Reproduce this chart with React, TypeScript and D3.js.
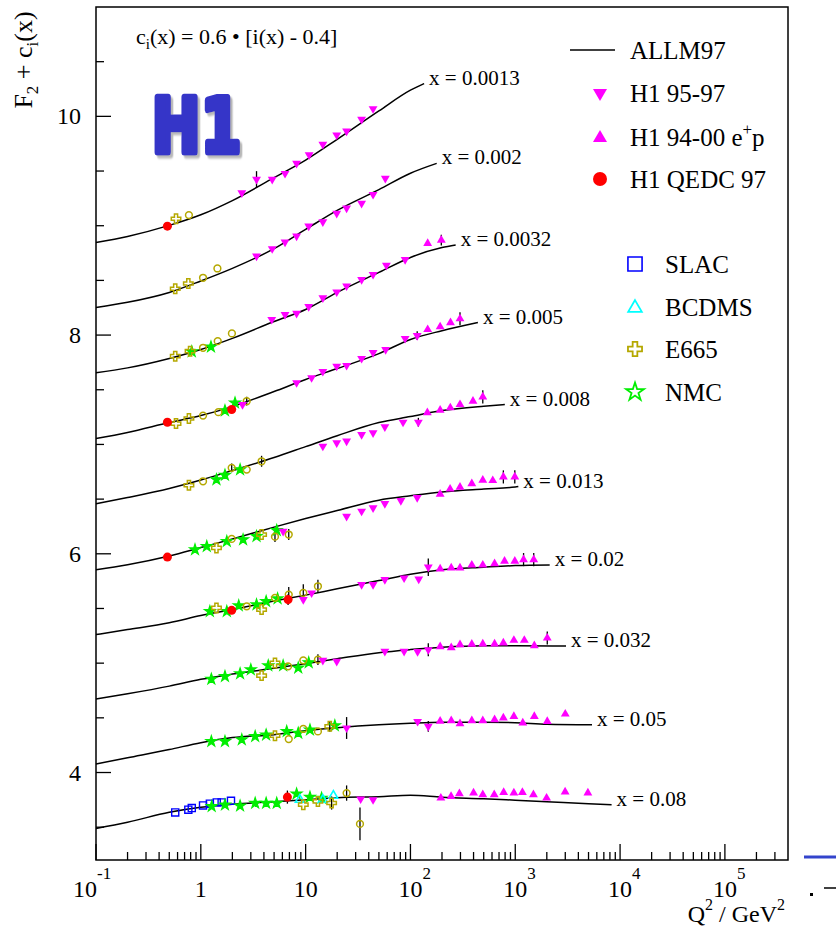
import React from 'react';
import * as d3 from 'd3';

// ---------- DATA ----------
const xBinLabels = ['0.0013', '0.002', '0.0032', '0.005', '0.008', '0.013', '0.02', '0.032', '0.05', '0.08'];

// ALLM97 curves: [Q2, F2 + c_i(x)]
const allm0013: [number, number][] = [[0.1, 8.847], [0.2, 8.902], [0.5, 9.003], [1, 9.10], [2, 9.23], [5, 9.44], [10, 9.60], [20, 9.79], [50, 10.05], [100, 10.24], [135, 10.30]];
const allm002: [number, number][] = [[0.1, 8.252], [0.2, 8.30], [0.5, 8.39], [1, 8.495], [2, 8.61], [5, 8.79], [10, 8.966], [20, 9.14], [50, 9.33], [100, 9.48], [178, 9.57]];
const allm0032: [number, number][] = [[0.1, 7.655], [0.2, 7.70], [0.5, 7.786], [1, 7.868], [2, 7.97], [5, 8.124], [10, 8.234], [20, 8.39], [50, 8.573], [100, 8.71], [200, 8.80], [270, 8.824]];
const allm005: [number, number][] = [[0.1, 7.054], [0.2, 7.11], [0.5, 7.20], [1, 7.264], [2, 7.346], [5, 7.484], [10, 7.594], [20, 7.694], [50, 7.83], [100, 7.96], [200, 8.04], [440, 8.115]];
const allm008: [number, number][] = [[0.1, 6.457], [0.2, 6.514], [0.5, 6.597], [1, 6.674], [2, 6.761], [5, 6.88], [10, 6.98], [20, 7.08], [50, 7.20], [100, 7.255], [200, 7.31], [500, 7.35], [795, 7.365]];
const allm013: [number, number][] = [[0.1, 5.855], [0.2, 5.90], [0.5, 5.98], [1, 6.057], [2, 6.135], [5, 6.244], [10, 6.322], [20, 6.395], [50, 6.49], [100, 6.53], [200, 6.565], [500, 6.592], [1000, 6.61], [1070, 6.615]];
const allm02: [number, number][] = [[0.1, 5.261], [0.2, 5.307], [0.5, 5.37], [1, 5.435], [2, 5.49], [5, 5.568], [10, 5.622], [20, 5.68], [50, 5.755], [100, 5.814], [200, 5.855], [500, 5.878], [1000, 5.892], [2130, 5.897]];
const allm032: [number, number][] = [[0.1, 4.672], [0.2, 4.72], [0.5, 4.79], [1, 4.852], [2, 4.90], [5, 4.954], [10, 4.995], [20, 5.04], [50, 5.096], [100, 5.124], [200, 5.146], [500, 5.16], [1000, 5.16], [3050, 5.156]];
const allm05: [number, number][] = [[0.1, 4.078], [0.2, 4.135], [0.5, 4.21], [1, 4.273], [2, 4.32], [5, 4.346], [10, 4.383], [20, 4.41], [50, 4.437], [100, 4.451], [200, 4.46], [500, 4.46], [1000, 4.456], [2000, 4.442], [5400, 4.437]];
const allm08: [number, number][] = [[0.1, 3.489], [0.2, 3.545], [0.5, 3.637], [1, 3.683], [2, 3.71], [5, 3.733], [10, 3.751], [20, 3.77], [50, 3.779], [100, 3.792], [200, 3.774], [500, 3.76], [1000, 3.747], [2000, 3.733], [5000, 3.714], [8300, 3.705]];

// Data points: [Q2, F2 + c_i(x), error]
const h1_9597: number[][] = [
  [2.46, 9.30], [3.4, 9.424, 0.075], [4.8, 9.424], [6.36, 9.478], [8.2, 9.57], [10.8, 9.648], [14.6, 9.744], [19.8, 9.83], [24.6, 9.866], [34.2, 9.973], [44, 10.07],
  [3.4, 8.722], [4.8, 8.79], [6.36, 8.85], [8.2, 8.905], [10.7, 8.996], [14.6, 9.035], [19.8, 9.113], [24.6, 9.161], [34.2, 9.204], [44, 9.286], [57.6, 9.433],
  [4.75, 8.143], [6.36, 8.188], [8.2, 8.198], [10.7, 8.26], [14.6, 8.34], [19.8, 8.394], [24.6, 8.449], [34.2, 8.507], [44, 8.554], [59, 8.637], [89, 8.69],
  [2.5, 7.365], [8.2, 7.564], [11.4, 7.61], [14.6, 7.667], [19.8, 7.715], [24.6, 7.722], [34.2, 7.786], [44, 7.84], [58, 7.868], [89, 7.969], [116, 7.996, 0.04],
  [14.6, 6.984], [19.8, 7.015], [24.6, 7.03], [34.2, 7.09], [44, 7.106], [57, 7.161], [85, 7.203], [119, 7.203, 0.04],
  [6.1, 6.206], [24.6, 6.343], [34.2, 6.389], [44, 6.42], [57, 6.459], [81, 6.487], [116, 6.514],
  [9.5, 5.581], [11.4, 5.642], [34.2, 5.718], [44, 5.718], [57, 5.764], [87, 5.779], [120, 5.768], [148, 5.878, 0.08],
  [14.6, 5.026], [19.8, 5.017], [57, 5.108], [87, 5.108], [117, 5.105], [148, 5.123, 0.06],
  [24.6, 4.407, 0.1], [117, 4.467], [148, 4.422, 0.05],
  [33.5, 3.758], [44, 3.751],
];
const h1_9400: number[][] = [
  [146, 8.838], [197, 8.868, 0.05],
  [146, 8.051], [192, 8.076], [241, 8.113], [297, 8.149, 0.06],
  [145, 7.29], [192, 7.313], [240, 7.335], [297, 7.365], [395, 7.395], [490, 7.435, 0.06],
  [192, 6.546], [239, 6.592], [297, 6.61], [385, 6.642], [490, 6.674], [610, 6.67], [770, 6.703, 0.06], [990, 6.703, 0.06],
  [192, 5.862], [245, 5.871], [297, 5.871], [385, 5.897], [490, 5.897], [635, 5.91], [790, 5.932], [990, 5.932], [1200, 5.947, 0.06], [1500, 5.947, 0.06],
  [192, 5.151], [245, 5.142], [297, 5.169], [385, 5.174], [490, 5.176], [635, 5.176], [770, 5.185], [970, 5.209], [1220, 5.209], [1520, 5.16], [2020, 5.23, 0.06],
  [192, 4.47], [245, 4.474], [297, 4.447], [385, 4.474], [490, 4.474], [635, 4.483], [770, 4.499], [970, 4.513], [1180, 4.453], [1520, 4.513], [2020, 4.467], [3000, 4.535],
  [195, 3.767], [244, 3.782], [293, 3.807], [400, 3.813], [490, 3.797], [630, 3.797], [775, 3.818], [970, 3.813], [1170, 3.818], [1490, 3.797], [1990, 3.767], [2990, 3.822], [4930, 3.813],
];
const h1Qedc: number[][] = [[0.48, 8.996], [0.48, 7.203], [1.97, 7.319], [0.48, 5.97], [1.97, 5.483], [6.8, 5.581, 0.05], [6.7, 3.775, 0.06]];
const slac: number[][] = [[0.57, 3.635], [0.76, 3.66], [0.82, 3.675], [1.05, 3.699], [1.22, 3.715], [1.42, 3.727], [1.58, 3.727], [1.94, 3.742]];
const bcdms: number[][] = [[8.8, 3.751], [14.6, 3.751], [18.4, 3.788]];
const e665: number[][] = [
  [0.58, 9.064], [0.57, 8.424], [0.76, 8.472], [0.57, 7.807], [0.79, 7.853], [0.58, 7.191], [0.77, 7.237], [0.77, 6.627],
  [1.41, 6.054], [3.8, 6.176], [1.41, 5.505], [3.8, 5.49], [3.8, 4.886], [5.1, 5.002], [5.1, 4.337], [17, 4.422, 0.05],
  [9.5, 3.706], [13.1, 3.736], [17.7, 3.721, 0.06],
];
const e665Open: number[][] = [
  [0.77, 9.097], [1.05, 8.524], [1.44, 8.609], [1.05, 7.884], [1.45, 7.944], [1.98, 8.015],
  [1.05, 7.264], [1.47, 7.295], [2.74, 7.395, 0.04], [1.05, 6.663], [1.97, 6.786, 0.04], [2.74, 6.77], [3.8, 6.846, 0.05],
  [1.97, 6.136], [5.1, 6.157, 0.05], [6.9, 6.176, 0.05], [2.74, 5.52], [5.1, 5.597], [6.9, 5.627, 0.07], [9.5, 5.642, 0.08], [13.1, 5.703, 0.06],
  [6.8, 4.971], [9.5, 5.026], [13.1, 5.032, 0.05], [6.9, 4.306], [9.5, 4.398], [13.1, 4.376],
  [24.6, 3.812, 0.07], [33, 3.53, 0.15],
];
const nmc: number[][] = [
  [0.82, 7.85], [1.25, 7.893], [1.7, 7.31], [2.12, 7.38], [1.41, 6.679], [1.7, 6.72], [2.37, 6.77],
  [0.88, 6.038], [1.14, 6.068], [1.77, 6.114], [2.53, 6.13], [3.4, 6.16], [5.3, 6.215],
  [1.22, 5.474], [1.77, 5.474], [2.3, 5.526], [3.4, 5.535], [4.2, 5.565], [5.4, 5.59],
  [1.26, 4.855], [1.7, 4.879], [2.37, 4.904], [3.0, 4.94], [4.4, 4.977], [6.1, 4.977], [8.5, 4.956], [10.7, 5.005],
  [1.26, 4.285], [1.7, 4.285], [2.46, 4.30], [3.3, 4.33], [4.2, 4.345], [6.6, 4.376], [8.5, 4.361], [11, 4.39], [19, 4.428],
  [1.27, 3.69], [1.7, 3.705], [2.37, 3.696], [3.3, 3.72], [4.2, 3.72], [5.3, 3.72], [8.2, 3.805], [11, 3.775], [14.2, 3.767],
];

const yTickLabels = [4, 6, 8, 10];
const xTickExponents = [-1, 0, 1, 2, 3, 4, 5];
const legendTop = ['ALLM97', 'H1 95-97', 'H1 94-00 e', 'H1 QEDC 97'];
const legendBottom = ['SLAC', 'BCDMS', 'E665', 'NMC'];

// ---------- STYLE ----------
const FONT = "'Liberation Serif','Times New Roman',Times,serif";
const MAGENTA = '#ff00ff';
const RED = '#ff0000';
const BLUE = '#0000ff';
const CYAN = '#00ffff';
const OLIVE = '#b5a800';
const GREEN = '#00ee00';

const L = 96, R = 788, T = 7, B = 860;
const xScale = d3.scaleLog().domain([0.1, 4e5]).range([L, R]);
const yScale = d3.scaleLinear().domain([3.2, 11.0]).range([B, T]);

const curves = [allm0013, allm002, allm0032, allm005, allm008, allm013, allm02, allm032, allm05, allm08];

const sym = (type: any, size: number) => d3.symbol().type(type).size(size)() as string;

export default function App() {
  const line = d3.line<[number, number]>().x(d => xScale(d[0])).y(d => yScale(d[1])).curve(d3.curveMonotoneX);

  const xMinor: number[] = [];
  for (let e = -1; e <= 5; e++) for (let m = 2; m <= 9; m++) { const v = m * Math.pow(10, e); if (v < 4e5) xMinor.push(v); }
  const yTicks: number[] = [];
  for (let v = 3.5; v <= 10.51; v += 0.5) yTicks.push(Math.round(v * 10) / 10);

  const triS = sym(d3.symbolTriangle, 34);
  const circS = sym(d3.symbolCircle, 64);
  const sqS = sym(d3.symbolSquare, 50);
  const crossS = sym(d3.symbolCross, 50);
  const starS = sym(d3.symbolStar, 36);
  const ocircS = sym(d3.symbolCircle, 36);

  const pts = (arr: number[][], d: string, props: any, rot = 0, key = '') =>
    arr.map((p, i) => (
      <path key={key + i} d={d}
        transform={`translate(${xScale(p[0])},${yScale(p[1])})${rot ? ` rotate(${rot})` : ''}`}
        {...props} />
    ));

  const allPts = [h1_9597, h1_9400, h1Qedc, slac, bcdms, e665, e665Open, nmc];
  const errs: any[] = [];
  allPts.forEach((arr, k) => arr.forEach((p, i) => {
    if (p[2]) errs.push(<line key={`e${k}-${i}`} x1={xScale(p[0])} x2={xScale(p[0])} y1={yScale(p[1] - p[2])} y2={yScale(p[1] + p[2])} stroke="#000" strokeWidth={1.3} />);
  }));

  return (
    <svg width={836} height={930} style={{ position: 'absolute', left: 0, top: 0, background: '#fff' }} fontFamily={FONT}>
      <defs>
        <filter id="h1shadow" x="-20%" y="-20%" width="150%" height="150%">
          <feDropShadow dx={3} dy={3} stdDeviation={0.8} floodColor="#b8b8b8" floodOpacity={1} />
        </filter>
      </defs>
      <rect x={0} y={0} width={836} height={930} fill="#fff" />
      {/* frame */}
      <rect x={L} y={T} width={R - L} height={B - T} fill="none" stroke="#000" strokeWidth={1.5} />
      {/* y ticks */}
      {yTicks.map(v => {
        const major = v % 2 === 0;
        return <line key={'yt' + v} x1={L} x2={L + (major ? 15 : 8)} y1={yScale(v)} y2={yScale(v)} stroke="#000" strokeWidth={1.3} />;
      })}
      {yTickLabels.map(v => (
        <text key={'yl' + v} x={81} y={yScale(v) + 8} fontSize={24} textAnchor="end">{v}</text>
      ))}
      {/* x ticks */}
      {xTickExponents.map(e => (
        <line key={'xt' + e} x1={xScale(Math.pow(10, e))} x2={xScale(Math.pow(10, e))} y1={B} y2={B - 16} stroke="#000" strokeWidth={1.3} />
      ))}
      {xMinor.map(v => (
        <line key={'xm' + v} x1={xScale(v)} x2={xScale(v)} y1={B} y2={B - 8} stroke="#000" strokeWidth={1.3} />
      ))}
      {xTickExponents.map(e => {
        const x = xScale(Math.pow(10, e));
        if (e === 0) return <text key={'xl' + e} x={x} y={897} fontSize={24} textAnchor="middle">1</text>;
        if (e === 1) return <text key={'xl' + e} x={x} y={897} fontSize={24} textAnchor="middle">10</text>;
        const bx = e === -1 ? x - 23 : x - 12;
        return (
          <text key={'xl' + e} x={bx} y={897} fontSize={24}>10<tspan fontSize={17} dy={-18}>{e === -1 ? '-1' : String(e)}</tspan></text>
        );
      })}
      {/* axis titles */}
      <text x={785} y={922} fontSize={24} textAnchor="end">Q<tspan fontSize={16} dy={-12}>2</tspan><tspan dy={12}> / GeV</tspan><tspan fontSize={16} dy={-12}>2</tspan></text>
      <text transform="translate(32,60) rotate(-90)" fontSize={26} textAnchor="middle">F<tspan fontSize={17} dy={6}>2</tspan><tspan dy={-6}> + c</tspan><tspan fontSize={17} dy={6}>i</tspan><tspan dy={-6}>(x)</tspan></text>
      {/* formula */}
      <text x={136} y={44} fontSize={22}>c<tspan fontSize={15} dy={5}>i</tspan><tspan dy={-5}>(x) = 0.6 • [i(x) - 0.4]</tspan></text>
      {/* H1 logo */}
      <g transform="translate(152,152) scale(0.78,1)" filter="url(#h1shadow)">
        <text x={0} y={0} fontFamily="'DejaVu Sans',sans-serif" fontWeight="bold" fontSize={74}
          fill="#3636c8" stroke="#3636c8" strokeWidth={7} strokeLinejoin="round" letterSpacing={1}>H1</text>
      </g>
      {/* curves */}
      {curves.map((c, i) => (
        <path key={'c' + i} d={line(c) as string} fill="none" stroke="#000" strokeWidth={1.5} />
      ))}
      {curves.map((c, i) => {
        const last = c[c.length - 1];
        return <text key={'cl' + i} x={xScale(last[0]) + 5} y={yScale(last[1]) + 1} fontSize={21}>x = {xBinLabels[i]}</text>;
      })}
      {/* error bars */}
      {errs}
      {/* points */}
      {pts(slac, sqS, { fill: 'none', stroke: BLUE, strokeWidth: 1.4 }, 0, 'sl')}
      {pts(nmc, starS, { fill: GREEN, stroke: GREEN, strokeWidth: 1.2 }, 0, 'nm')}
      {pts(bcdms, triS, { fill: 'none', stroke: CYAN, strokeWidth: 1.6 }, 0, 'bc')}
      {pts(e665, crossS, { fill: 'none', stroke: OLIVE, strokeWidth: 1.5 }, 0, 'e6')}
      {pts(e665Open, ocircS, { fill: 'none', stroke: OLIVE, strokeWidth: 1.5 }, 0, 'eo')}
      {pts(h1_9597, triS, { fill: MAGENTA }, 180, 'hd')}
      {pts(h1_9400, triS, { fill: MAGENTA }, 0, 'hu')}
      {pts(h1Qedc, circS, { fill: RED }, 0, 'qe')}
      {/* legend */}
      <line x1={570} x2={615} y1={50} y2={50} stroke="#000" strokeWidth={1.5} />
      <path d={sym(d3.symbolTriangle, 85)} transform="translate(600,93) rotate(180)" fill={MAGENTA} />
      <path d={sym(d3.symbolTriangle, 85)} transform="translate(600,138)" fill={MAGENTA} />
      <circle cx={600} cy={179} r={7} fill={RED} />
      {[50, 93, 137, 179].map((y, i) => (
        <text key={'lt' + i} x={630} y={y + 8.5} fontSize={25}>{legendTop[i]}{i === 2 ? <><tspan fontSize={17} dy={-11}>+</tspan><tspan dy={11}>p</tspan></> : null}</text>
      ))}
      <path d={sym(d3.symbolSquare, 200)} transform="translate(635,264)" fill="none" stroke={BLUE} strokeWidth={1.6} />
      <path d={sym(d3.symbolTriangle, 80)} transform="translate(635,308)" fill="none" stroke={CYAN} strokeWidth={1.8} />
      <path d={sym(d3.symbolCross, 110)} transform="translate(635,349)" fill="none" stroke={OLIVE} strokeWidth={1.8} />
      <path d={sym(d3.symbolStar, 100)} transform="translate(635,392)" fill="none" stroke={GREEN} strokeWidth={1.8} />
      {[264, 307, 349, 392].map((y, i) => (
        <text key={'lb' + i} x={665} y={y + 8.5} fontSize={25}>{legendBottom[i]}</text>
      ))}
      {/* slide decorations at right edge */}
      <line x1={804} x2={836} y1={857} y2={857} stroke="#3344cc" strokeWidth={3} />
      <line x1={824} x2={836} y1={888} y2={888} stroke="#000" strokeWidth={1.5} />
      <rect x={810} y={893} width={3} height={3} fill="#000" />
    </svg>
  );
}
